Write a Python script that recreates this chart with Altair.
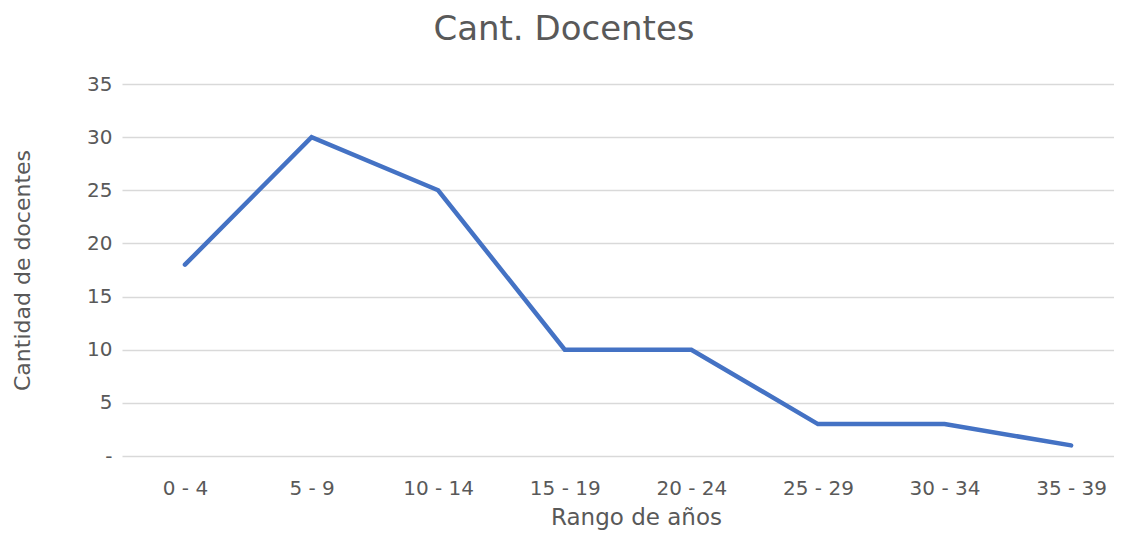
import altair as alt
import pandas as pd

rangos = ["0 - 4", "5 - 9", "10 - 14", "15 - 19", "20 - 24", "25 - 29", "30 - 34", "35 - 39"]
docentes = [18, 30, 25, 10, 10, 3, 3, 1]
y_ticks = [0, 5, 10, 15, 20, 25, 30, 35]

df = pd.DataFrame({"rango": rangos, "docentes": docentes})

FONT = "DejaVu Sans"
GRAY = "#595959"

chart = alt.Chart(df).mark_line(
    color="#4472C4", strokeWidth=4.5, strokeCap="round"
).encode(
    x=alt.X(
        "rango:N",
        sort=rangos,
        scale=alt.Scale(type="point", padding=0.418, align=0.595),
        axis=alt.Axis(
            title="Rango de años",
            labelAngle=0,
            labelFont=FONT,
            labelFontSize=20,
            labelColor=GRAY,
            labelPadding=22,
            ticks=False,
            domain=False,
            grid=False,
            titleFont=FONT,
            titleFontSize=23,
            titleFontWeight="normal",
            titleColor=GRAY,
            titleX=514,
            titleY=61,
            titleBaseline="middle",
            titleAlign="center",
        ),
    ),
    y=alt.Y(
        "docentes:Q",
        scale=alt.Scale(domain=[0, 35], nice=False),
        axis=alt.Axis(
            title="Cantidad de docentes",
            values=y_ticks,
            labelExpr="datum.value == 0 ? '-' : datum.label",
            labelFont=FONT,
            labelFontSize=20,
            labelColor=GRAY,
            labelPadding=10,
            ticks=False,
            domain=False,
            grid=True,
            gridColor="#d9d9d9",
            gridWidth=1.5,
            titleFont=FONT,
            titleFontSize=22,
            titleFontWeight="normal",
            titleColor=GRAY,
            titleAngle=-90,
            titleX=-100,
            titleY=186,
            titleBaseline="middle",
            titleAlign="center",
        ),
    ),
).properties(
    width=992,
    height=372,
    autosize=alt.AutoSizeParams(type="none"),
    padding={"left": 114, "top": 76, "right": 0, "bottom": 77},
    title=alt.TitleParams(
        "Cant. Docentes",
        font=FONT,
        fontSize=34,
        fontWeight="normal",
        color=GRAY,
        anchor="middle",
        dx=-54,
        offset=27,
    ),
).configure(background="white").configure_view(stroke=None, strokeWidth=0)

chart.save("out.html", embed_options={"renderer": "svg", "actions": False})
